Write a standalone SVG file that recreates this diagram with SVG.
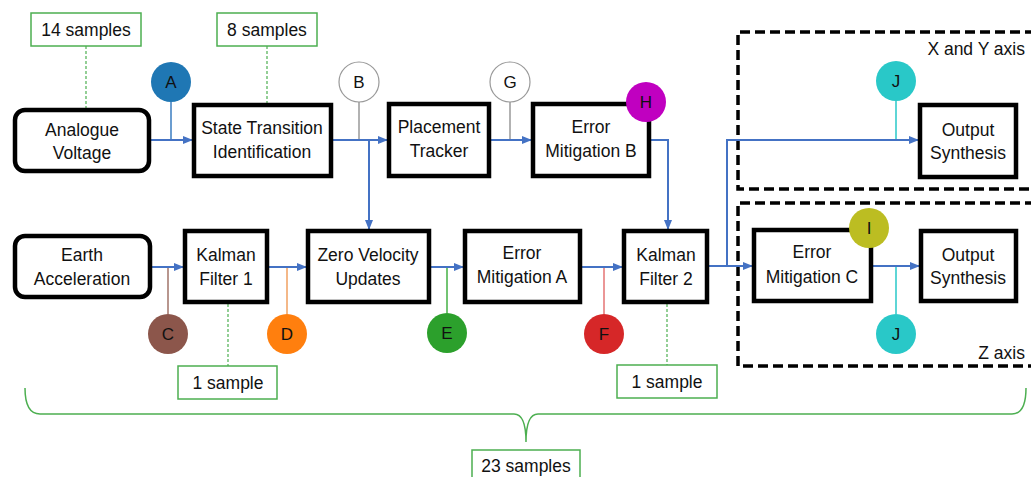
<svg xmlns="http://www.w3.org/2000/svg" width="1031" height="477" viewBox="0 0 1031 477">
<style>
text{font-family:"Liberation Sans",Arial,sans-serif;font-size:17.5px;fill:#111;text-anchor:middle}
.box{fill:#fff;stroke:#000;stroke-width:4.5}
.smp{fill:#fff;stroke:#4CAF50;stroke-width:1.5}
.sl{stroke:#4CAF50;stroke-width:1.2;stroke-dasharray:3 2;fill:none}
.con{stroke:#4472C4;stroke-width:2;fill:none}
.grp{fill:none;stroke:#000;stroke-width:3.5;stroke-dasharray:10 5}
.lbl{font-size:17px}
</style>
<defs>
<marker id="arr" markerWidth="10" markerHeight="8" refX="9" refY="4" orient="auto" markerUnits="userSpaceOnUse">
<path d="M0,0 L10,4 L0,8 Z" fill="#4472C4"/>
</marker>
</defs>

<g id="groups">
<path class="grp" d="M1035,32 H738 V189 H1035"/>
<path class="grp" d="M1035,203 H738 V366 H1035"/>
<text x="1025" y="55" style="text-anchor:end">X and Y axis</text>
<text x="1025" y="359" style="text-anchor:end">Z axis</text>
</g>

<g id="sample-lines">
<line class="sl" x1="86" y1="46" x2="86" y2="108"/>
<line class="sl" x1="267" y1="46" x2="267" y2="103"/>
<line class="sl" x1="228" y1="304" x2="228" y2="366"/>
<line class="sl" x1="667" y1="304" x2="667" y2="365"/>
</g>

<g id="marker-lines">
<line x1="171" y1="102" x2="171" y2="140" stroke="#3A7DC0" stroke-width="1.5"/>
<line x1="359" y1="102" x2="359" y2="140" stroke="#999" stroke-width="1.5"/>
<line x1="510" y1="102" x2="510" y2="140" stroke="#999" stroke-width="1.5"/>
<line x1="896" y1="101" x2="896" y2="140" stroke="#29C8C8" stroke-width="1.5"/>
<line x1="168" y1="267" x2="168" y2="314" stroke="#A07368" stroke-width="1.5"/>
<line x1="287" y1="267" x2="287" y2="314" stroke="#F0A060" stroke-width="1.5"/>
<line x1="447" y1="267" x2="447" y2="313" stroke="#44B044" stroke-width="1.5"/>
<line x1="604" y1="267" x2="604" y2="314" stroke="#E57373" stroke-width="1.5"/>
<line x1="896" y1="266" x2="896" y2="314" stroke="#29C8C8" stroke-width="1.5"/>
</g>

<g id="connectors">
<line class="con" x1="151" y1="140" x2="192" y2="140" marker-end="url(#arr)"/>
<line class="con" x1="333" y1="140" x2="387" y2="140" marker-end="url(#arr)"/>
<path class="con" d="M369,140 V229" marker-end="url(#arr)"/>
<line class="con" x1="491" y1="140" x2="531" y2="140" marker-end="url(#arr)"/>
<path class="con" d="M651,140 H668 V229" marker-end="url(#arr)"/>
<line class="con" x1="152" y1="267" x2="183" y2="267" marker-end="url(#arr)"/>
<line class="con" x1="269" y1="267" x2="306" y2="267" marker-end="url(#arr)"/>
<line class="con" x1="431" y1="267" x2="463" y2="267" marker-end="url(#arr)"/>
<line class="con" x1="582" y1="267" x2="622" y2="267" marker-end="url(#arr)"/>
<line class="con" x1="709" y1="266" x2="752" y2="266" marker-end="url(#arr)"/>
<path class="con" d="M727,266 V140 H918" marker-end="url(#arr)"/>
<line class="con" x1="873" y1="266" x2="919" y2="266" marker-end="url(#arr)"/>
</g>

<g id="n-analogue"><rect class="box" x="15" y="110" width="134" height="61" rx="10"/><text x="82" y="136">Analogue</text><text x="82" y="159">Voltage</text></g>
<g id="n-sti"><rect class="box" x="194" y="105" width="137" height="71"/><text x="262" y="134">State Transition</text><text x="262" y="158">Identification</text></g>
<g id="n-pt"><rect class="box" x="389" y="104" width="100" height="72"/><text x="439" y="133">Placement</text><text x="439" y="157">Tracker</text></g>
<g id="n-emb"><rect class="box" x="533" y="104" width="116" height="72"/><text x="591" y="133">Error</text><text x="591" y="157">Mitigation B</text></g>
<g id="n-os1"><rect class="box" x="920" y="105" width="96" height="72"/><text x="968" y="136">Output</text><text x="968" y="159">Synthesis</text></g>
<g id="n-earth"><rect class="box" x="15" y="236" width="135" height="61" rx="10"/><text x="82" y="261">Earth</text><text x="82" y="285">Acceleration</text></g>
<g id="n-kf1"><rect class="box" x="185" y="231" width="82" height="71"/><text x="226" y="261">Kalman</text><text x="226" y="285">Filter 1</text></g>
<g id="n-zvu"><rect class="box" x="308" y="231" width="121" height="71"/><text x="368" y="261">Zero Velocity</text><text x="368" y="285">Updates</text></g>
<g id="n-ema"><rect class="box" x="465" y="231" width="115" height="71"/><text x="522" y="259">Error</text><text x="522" y="283">Mitigation A</text></g>
<g id="n-kf2"><rect class="box" x="624" y="231" width="83" height="71"/><text x="666" y="261">Kalman</text><text x="666" y="285">Filter 2</text></g>
<g id="n-emc"><rect class="box" x="754" y="230" width="117" height="71"/><text x="812" y="258">Error</text><text x="812" y="283">Mitigation C</text></g>
<g id="n-os2"><rect class="box" x="921" y="231" width="95" height="70"/><text x="968" y="261">Output</text><text x="968" y="284">Synthesis</text></g>

<g id="m-A"><circle cx="171" cy="82" r="20" fill="#1F77B4"/><text class="lbl" x="171" y="88">A</text></g>
<g id="m-B"><circle cx="359" cy="82" r="20" fill="#fff" stroke="#999" stroke-width="1.2"/><text class="lbl" x="359" y="88">B</text></g>
<g id="m-G"><circle cx="510" cy="82" r="20" fill="#fff" stroke="#999" stroke-width="1.2"/><text class="lbl" x="510" y="88">G</text></g>
<g id="m-H"><circle cx="646" cy="102" r="20" fill="#C000C0"/><text class="lbl" x="646" y="108">H</text></g>
<g id="m-J1"><circle cx="896" cy="81" r="20" fill="#29C8C8"/><text class="lbl" x="896" y="87">J</text></g>
<g id="m-C"><circle cx="168" cy="334" r="20" fill="#8C564B"/><text class="lbl" x="168" y="340">C</text></g>
<g id="m-D"><circle cx="287" cy="334" r="20" fill="#FF7F0E"/><text class="lbl" x="287" y="340">D</text></g>
<g id="m-E"><circle cx="447" cy="333" r="20" fill="#2CA02C"/><text class="lbl" x="447" y="339">E</text></g>
<g id="m-F"><circle cx="604" cy="334" r="20" fill="#D62728"/><text class="lbl" x="604" y="340">F</text></g>
<g id="m-I"><circle cx="869" cy="228" r="20" fill="#BCBD22"/><text class="lbl" x="869" y="234">I</text></g>
<g id="m-J2"><circle cx="896" cy="334" r="20" fill="#29C8C8"/><text class="lbl" x="896" y="340">J</text></g>

<g id="s-14"><rect class="smp" x="31" y="13" width="110" height="33"/><text x="86" y="36">14 samples</text></g>
<g id="s-8"><rect class="smp" x="217" y="13" width="100" height="33"/><text x="267" y="36">8 samples</text></g>
<g id="s-1a"><rect class="smp" x="178" y="366" width="99" height="33"/><text x="228" y="389">1 sample</text></g>
<g id="s-1b"><rect class="smp" x="617" y="365" width="100" height="33"/><text x="667" y="388">1 sample</text></g>

<g id="brace">
<path d="M25,388 Q25,414 40,414 L514,414 Q526,414 526,442 Q526,414 538,414 L1012,414 Q1026,414 1026,388" fill="none" stroke="#4CAF50" stroke-width="1.5"/>
</g>
<g id="s-23"><rect class="smp" x="472" y="450" width="108" height="35"/><text x="526" y="472">23 samples</text></g>
</svg>
